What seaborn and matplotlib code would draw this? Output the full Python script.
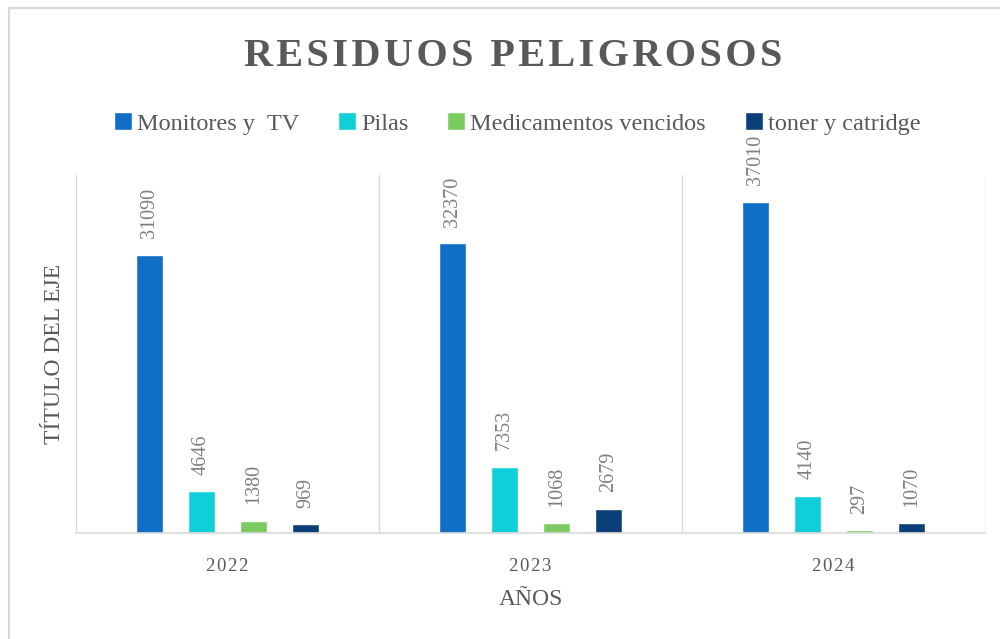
import pandas as pd
import matplotlib.pyplot as plt
import seaborn as sns
from matplotlib.lines import Line2D

# Datos
years = ["2022", "2023", "2024"]
monitores = [31090, 32370, 37010]
pilas = [4646, 7353, 4140]
medicamentos = [1380, 1068, 297]
toner = [969, 2679, 1070]

series_names = ["Monitores y  TV", "Pilas", "Medicamentos vencidos", "toner y catridge"]
colors = ["#0F6FC6", "#0FCFD9", "#7CCB62", "#0A3F78"]

df = pd.DataFrame({
    "year": years * 4,
    "serie": [s for s in series_names for _ in years],
    "valor": monitores + pilas + medicamentos + toner,
})

sns.set_theme(style="white")
plt.rcParams["font.family"] = ["Liberation Serif", "DejaVu Serif"]
gray = "#595959"

fig = plt.figure(figsize=(10, 6.39), dpi=100)
ax = fig.add_axes([0.076, 0.166, 0.909, 0.560])

sns.barplot(data=df, x="year", y="valor", hue="serie", palette=colors,
            width=0.686, gap=0.48, saturation=1, ax=ax, legend=True)

for cont in ax.containers:
    ax.bar_label(cont, rotation=90, padding=12, color="#7F7F7F", fontsize=14.5)

ax.set_ylim(0, 40000)
ax.set_xlim(-0.5, 2.5)
ax.set_yticks([])
ax.set_xticks([-0.5, 0.5, 1.5, 2.5], minor=True)
ax.grid(True, axis="x", which="minor", color="#D9D9D9", linewidth=1)
ax.tick_params(axis="x", which="both", length=0, pad=18, labelsize=13.5, labelcolor=gray)
ax.set_xticklabels(["\u200a".join(y) for y in years])

for side in ["top", "right", "left"]:
    ax.spines[side].set_visible(False)
ax.spines["bottom"].set_color("#D9D9D9")
ax.spines["bottom"].set_linewidth(1.2)

ax.set_xlabel("AÑOS", fontsize=17, color=gray, labelpad=10)
ax.set_ylabel("TÍTULO DEL EJE", fontsize=17, color=gray, labelpad=8)

handles, labels = ax.get_legend_handles_labels()
ax.legend(handles, labels, loc="center", bbox_to_anchor=(0.517, 0.807),
          bbox_transform=fig.transFigure, ncol=4, frameon=False,
          fontsize=17.5, labelcolor=gray, handlelength=0.75, handleheight=0.75,
          handletextpad=0.2, columnspacing=1.6)

fig.text(0.513, 0.912, "\u200a".join("RESIDUOS PELIGROSOS"), ha="center", va="center",
         fontsize=29, fontweight="bold", color=gray)

# marco exterior (solo arriba e izquierda visibles)
fig.lines.append(Line2D([0.009, 1.0], [0.987, 0.987], transform=fig.transFigure,
                        color="#D9D9D9", linewidth=1.6))
fig.lines.append(Line2D([0.009, 0.009], [0.0, 0.987], transform=fig.transFigure,
                        color="#D9D9D9", linewidth=1.6))

fig.savefig("out.png", dpi=100)
